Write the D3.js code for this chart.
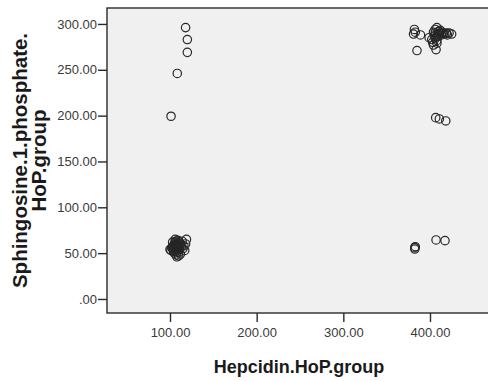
<!DOCTYPE html>
<html>
<head>
<meta charset="utf-8">
<script src="https://cdn.jsdelivr.net/npm/d3@7"></script>
<style>
  html, body { margin: 0; padding: 0; background: #fff; overflow: hidden; }
  svg { display: block; }
</style>
</head>
<body>
<svg id="chart" width="488" height="381"></svg>
<script>
// Hepcidin (HoP group) vs Sphingosine-1-phosphate (HoP group), one value per subject
const hepcidin = [
  // low hepcidin / low S1P
  100, 101, 102, 103, 104, 104, 105, 105, 106, 106, 107, 107, 108, 108, 109, 109,
  110, 110, 111, 111, 112, 112, 113, 114, 115, 116, 117, 119, 118, 106, 103, 110, 108,
  105, 107, 109, 104, 108, 106, 110, 107,
  // low hepcidin / high S1P
  118, 120, 120, 108.4, 101.2,
  // high hepcidin / high S1P
  382, 381, 383, 389, 385, 399, 402, 404, 404, 405, 406, 406, 407, 407, 408, 408,
  409, 410, 410, 411, 412, 413, 414, 415, 417, 419, 420, 422, 425, 408, 406, 403,
  // high hepcidin / mid S1P
  406.6, 410.8, 418.2,
  // high hepcidin / low S1P
  382.5, 382.5, 383, 407, 417.3
];
const s1p = [
  54, 53, 56, 55, 58, 52, 60, 50, 55, 62, 57, 48, 53, 60, 64, 56,
  51, 58, 62, 54, 49, 60, 57, 63, 55, 58, 53, 65, 60, 65, 62, 47, 46,
  57, 59, 61, 56, 51, 58, 55, 63,
  296, 283, 269, 246, 199.3,
  294, 289, 291, 288, 271, 285, 283, 291, 277, 287, 294, 290, 286, 272, 282, 296,
  289, 292, 287, 290, 293, 288, 291, 290, 289, 290, 288, 290, 289, 279, 284, 280,
  197.8, 196.4, 194.2,
  56, 54.5, 57, 64.4, 63.6
];
const xTicks = [100, 200, 300, 400];
const yTicks = [0, 50, 100, 150, 200, 250, 300];
const xTitle = "Hepcidin.HoP.group";
const yTitleLines = ["Sphingosine.1.phosphate.", "HoP.group"];

const svg = d3.select("#chart");
const plot = { left: 107, top: 8, right: 491, bottom: 313 };

const x = d3.scaleLinear().domain([27.3, 470.4]).range([plot.left, plot.right]);
const y = d3.scaleLinear().domain([-15.3, 317.4]).range([plot.bottom, plot.top]);

// SPSS-style number labels: two decimals, no leading zero
const fmt = v => d3.format(".2f")(v).replace(/^0\./, ".");

// plot background
svg.append("rect")
  .attr("x", plot.left).attr("y", plot.top)
  .attr("width", plot.right - plot.left).attr("height", plot.bottom - plot.top)
  .attr("fill", "#f0f0f0")
  .attr("stroke", "#2a2a2a").attr("stroke-width", 1.4);

// axes
const xAxis = d3.axisBottom(x).tickValues(xTicks).tickFormat(fmt).tickSizeOuter(0).tickSizeInner(9).tickPadding(6);
const yAxis = d3.axisLeft(y).tickValues(yTicks).tickFormat(fmt).tickSizeOuter(0).tickSizeInner(9).tickPadding(1);

const gx = svg.append("g").attr("transform", `translate(0,${plot.bottom})`).call(xAxis);
const gy = svg.append("g").attr("transform", `translate(${plot.left},0)`).call(yAxis);

[gx, gy].forEach(g => {
  g.select(".domain").remove();
  g.selectAll(".tick line").attr("stroke", "#2a2a2a").attr("stroke-width", 1.4);
  g.selectAll(".tick text")
    .attr("fill", "#3a3a3a")
    .style("font-family", "'Liberation Sans', Arial, sans-serif")
    .style("font-size", "13px");
});

// scatter points as open circles
const pts = hepcidin.map((h, i) => ({ h, s: s1p[i] }));
svg.append("g").selectAll("circle").data(pts).join("circle")
  .attr("cx", d => x(d.h))
  .attr("cy", d => y(d.s))
  .attr("r", 4.2)
  .attr("fill", "none")
  .attr("stroke", "#262626")
  .attr("stroke-width", 1.2);

// axis titles
svg.append("text")
  .attr("x", (plot.left + plot.right) / 2)
  .attr("y", 373)
  .attr("text-anchor", "middle")
  .attr("fill", "#1a1a1a")
  .style("font-family", "'Liberation Sans', Arial, sans-serif")
  .style("font-size", "18px").style("font-weight", "bold")
  .text(xTitle);

const yt = svg.append("text")
  .attr("transform", `translate(0,${(plot.top + plot.bottom) / 2}) rotate(-90)`)
  .attr("text-anchor", "middle")
  .attr("fill", "#1a1a1a")
  .style("font-family", "'Liberation Sans', Arial, sans-serif")
  .style("font-size", "20.5px").style("font-weight", "bold");
yTitleLines.forEach((line, i) => {
  yt.append("tspan").attr("x", 0).attr("y", 27 + i * 18.5).text(line);
});
</script>
</body>
</html>
